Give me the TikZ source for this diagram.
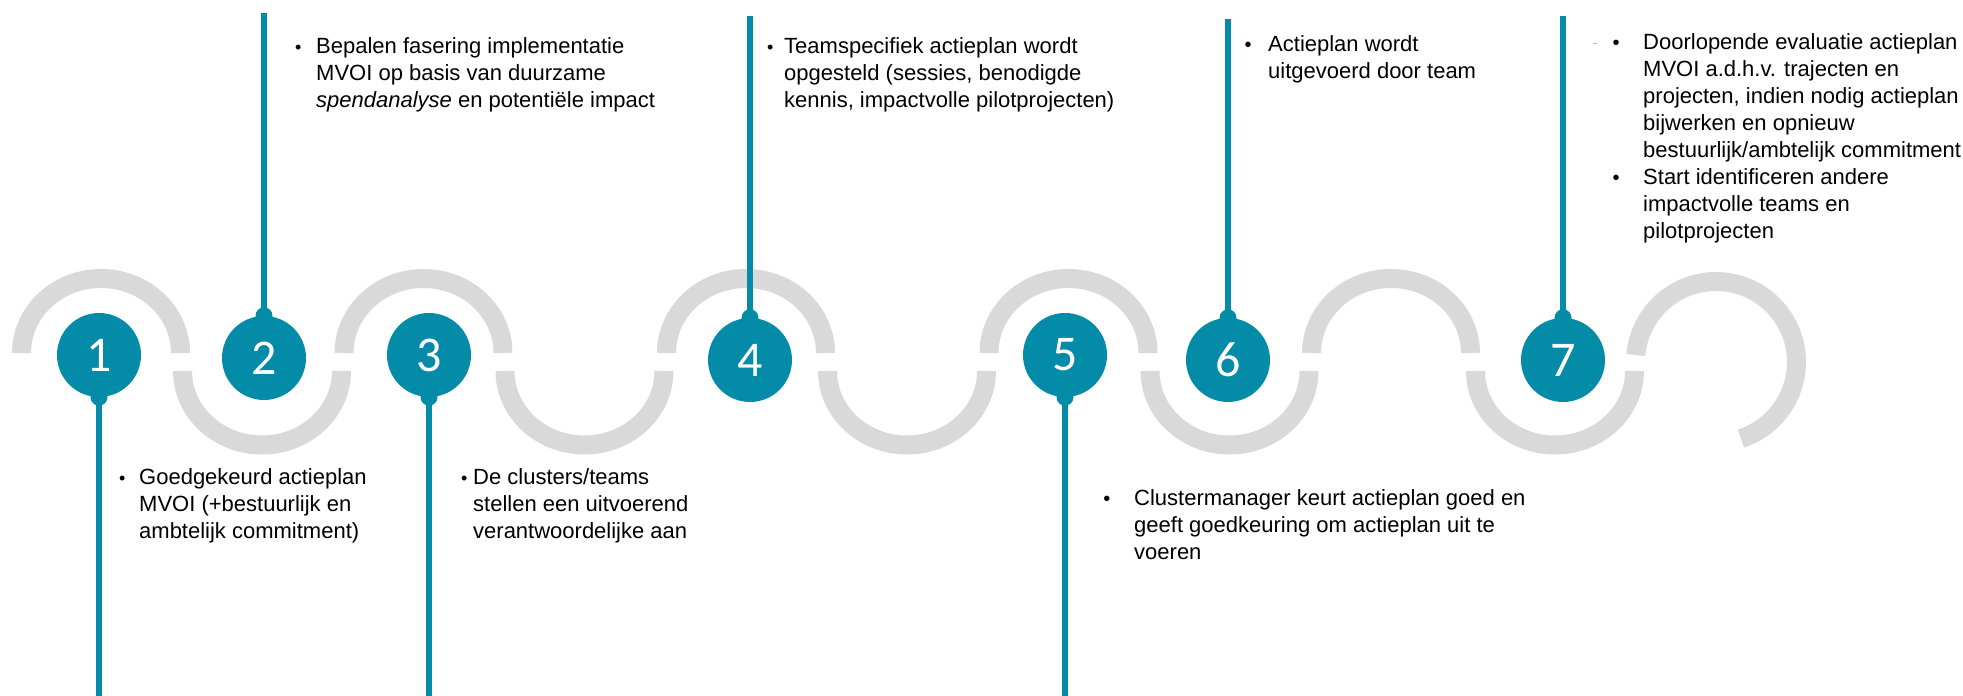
\documentclass[tikz,border=0pt]{standalone}
\usepackage{fontspec}
\setmainfont{Liberation Sans}
\newfontfamily\numfont{Carlito}
\definecolor{tealc}{RGB}{4,139,168}
\definecolor{wavec}{RGB}{217,217,217}
\newcommand{\sbul}{{\fontsize{18}{18}\selectfont\textbullet}}
\newcommand{\rbul}{{\fontsize{20}{20}\selectfont\textbullet}}
\begin{document}
\begin{tikzpicture}[x=1pt,y=1pt,
  wavearc/.style={draw=wavec, line width=19pt, line cap=butt},
  stepcirc/.style={circle, fill=tealc, minimum size=84pt, inner sep=0pt, text=white, font=\numfont\fontsize{50}{50}\selectfont},
  stem/.style={draw=tealc, line width=5.5pt},
  knob/.style={fill=tealc},
  txt/.style={inner sep=0pt, anchor=base west, font=\fontsize{22}{27}\selectfont, text=black}
]
\useasboundingbox (0,0) rectangle (1963,696);
% wave
\foreach \c in {101,423.5,746,1068.5,1391}
  \draw[wavearc] (\c-79.5,343) arc[start angle=180, end angle=0, x radius=79.5, y radius=74.5];
\foreach \c in {262,584.5,907,1229.5,1555}
  \draw[wavearc] (\c-79.5,325) arc[start angle=180, end angle=360, x radius=79.5, y radius=74];
\draw[wavearc] (1635.8,341) arc[start angle=175, end angle=-72, radius=80.5];
% step circles
\node[stepcirc] (c1) at (99,341) {1};
\node[stepcirc] (c2) at (264,338) {2};
\node[stepcirc] (c3) at (429,341) {3};
\node[stepcirc] (c4) at (750,336) {4};
\node[stepcirc] (c5) at (1065,341) {5};
\node[stepcirc] (c6) at (1228,336) {6};
\node[stepcirc] (c7) at (1563,336) {7};
% stem ends
\coordinate (e1) at (99,0);
\coordinate (e2) at (264,683);
\coordinate (e3) at (429,0);
\coordinate (e4) at (750,680);
\coordinate (e5) at (1065,0);
\coordinate (e6) at (1228,677);
\coordinate (e7) at (1563,680);
\draw[stem] (c1.south) -- (e1);
\draw[stem] (c2.north) -- (e2);
\draw[stem] (c3.south) -- (e3);
\draw[stem] (c4.north) -- (e4);
\draw[stem] (c5.south) -- (e5);
\draw[stem] (c6.north) -- (e6);
\draw[stem] (c7.north) -- (e7);
\fill[knob] (c1.south) circle (8.5);
\fill[knob] (c2.north) circle (8.5);
\fill[knob] (c3.south) circle (8.5);
\fill[knob] (c4.north) circle (8.5);
\fill[knob] (c5.south) circle (8.5);
\fill[knob] (c6.north) circle (8.5);
\fill[knob] (c7.north) circle (8.5);
% texts
\node[txt] (t1) at (118.85,211) {\begin{tabular}[t]{@{}p{20.15pt}@{}l@{}}\sbul & Goedgekeurd actieplan\\ & MVOI (+bestuurlijk en\\ & ambtelijk commitment)\end{tabular}};
\node[txt] (t2) at (294.85,642) {\begin{tabular}[t]{@{}p{21.15pt}@{}l@{}}\sbul & Bepalen fasering implementatie\\ & MVOI op basis van duurzame\\ & \textit{spendanalyse} en potentiële impact\end{tabular}};
\node[txt] (t3) at (460.85,211) {\begin{tabular}[t]{@{}p{12.15pt}@{}l@{}}\sbul & De clusters/teams\\ & stellen een uitvoerend\\ & verantwoordelijke aan\end{tabular}};
\node[txt] (t4) at (766.85,642.7) {\begin{tabular}[t]{@{}p{17.15pt}@{}l@{}}\sbul & Teamspecifiek actieplan wordt\\ & opgesteld (sessies, benodigde\\ & kennis, impactvolle pilotprojecten)\end{tabular}};
\node[txt] (t5) at (1103.1,190) {\begin{tabular}[t]{@{}p{30.9pt}@{}l@{}}\rbul & Clustermanager keurt actieplan goed en\\ & geeft goedkeuring om actieplan uit te\\ & voeren\end{tabular}};
\node[txt] (t6) at (1244.5,644) {\begin{tabular}[t]{@{}p{23.5pt}@{}l@{}}\rbul & Actieplan wordt\\ & uitgevoerd door team\end{tabular}};
\node[txt] (t7) at (1612.5,646) {\begin{tabular}[t]{@{}p{30.5pt}@{}l@{}}\rbul & Doorlopende evaluatie actieplan\\ & MVOI a.d.h.v. trajecten en\\ & projecten, indien nodig actieplan\\ & bijwerken en opnieuw\\ & bestuurlijk/ambtelijk commitment\\ \rbul & Start identificeren andere\\ & impactvolle teams en\\ & pilotprojecten\end{tabular}};
\draw[gray!60, line width=0.8pt] (1593,653) -- (1597,653);
\end{tikzpicture}
\end{document}
